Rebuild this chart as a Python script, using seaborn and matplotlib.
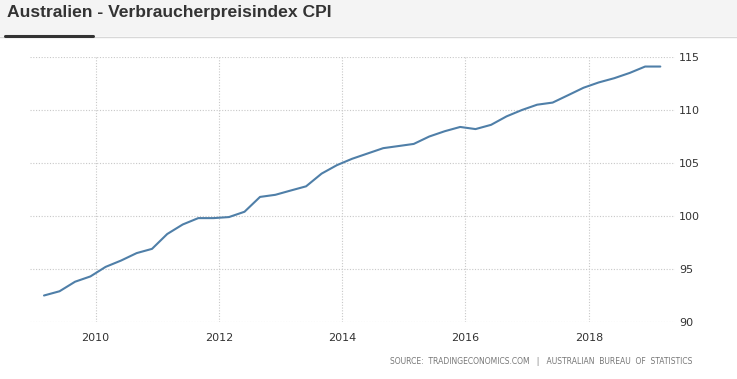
import numpy as np
import pandas as pd
from matplotlib import pyplot as plt
import matplotlib.dates as mdates
import matplotlib.patches as mpatches
import seaborn as sns

# quarterly CPI, Q1 2009 - Q1 2019
quarters = pd.date_range("2009-03-01", "2019-03-01", freq="3MS")
cpi = [92.5, 92.9, 93.8, 94.3,
       95.2, 95.8, 96.5, 96.9,
       98.3, 99.2, 99.8, 99.8,
       99.9, 100.4, 101.8, 102.0,
       102.4, 102.8, 104.0, 104.8,
       105.4, 105.9, 106.4, 106.6,
       106.8, 107.5, 108.0, 108.4,
       108.2, 108.6, 109.4, 110.0,
       110.5, 110.7, 111.4, 112.1,
       112.6, 113.0, 113.5, 114.1,
       114.1]
y_ticks = [90, 95, 100, 105, 110, 115]
x_years = [2010, 2012, 2014, 2016, 2018]

title = "Australien - Verbraucherpreisindex CPI"
source = "SOURCE:  TRADINGECONOMICS.COM   |   AUSTRALIAN  BUREAU  OF  STATISTICS"

df = pd.DataFrame({"date": quarters, "cpi": cpi})

sns.set_theme(style="white")
plt.rcParams['font.family'] = ['DejaVu Sans']

fig = plt.figure(figsize=(7.37, 3.79), dpi=100)
fig.patch.set_facecolor("white")

# header band
fig.patches.append(mpatches.Rectangle((0, 1 - 36 / 379), 1, 36 / 379, transform=fig.transFigure,
                                      facecolor="#f4f4f4", edgecolor="none", zorder=0))
fig.add_artist(plt.Line2D([0, 1], [1 - 36.5 / 379] * 2, transform=fig.transFigure, color="#d8d8d8", lw=1))
fig.add_artist(plt.Line2D([5 / 737, 93 / 737], [1 - 36 / 379] * 2, transform=fig.transFigure, color="#333333", lw=2.2))
fig.text(7 / 737, 1 - 13 / 379, title, fontsize=12.6, fontweight="bold", color="#333333",
         va="center", ha="left", family="Liberation Sans")

ax = fig.add_axes([30 / 737, 1 - 322 / 379, 645 / 737, 265 / 379])
sns.lineplot(data=df, x="date", y="cpi", ax=ax, color="#4f7fa8", lw=1.5)

ax.set_ylim(90, 115)
ax.set_xlim(pd.Timestamp("2008-12-08"), pd.Timestamp("2019-05-27"))
ax.set_yticks(y_ticks)
ax.set_xticks([pd.Timestamp(f"{y}-01-01") for y in x_years])
ax.xaxis.set_major_formatter(mdates.DateFormatter("%Y"))
ax.yaxis.tick_right()
ax.set_xlabel("")
ax.set_ylabel("")
ax.tick_params(axis="both", labelsize=8, colors="#333333", length=0, pad=3)
ax.tick_params(axis="x", pad=8)
for s in ax.spines.values():
    s.set_visible(False)
ax.grid(True, color="#c8c8c8", linestyle=(0, (1, 1.5)), lw=0.8)

fig.text(692 / 737, 1 - 362 / 379, source, fontsize=5.5, color="#777777", ha="right", va="center")

plt.savefig("out.png", dpi=100)
